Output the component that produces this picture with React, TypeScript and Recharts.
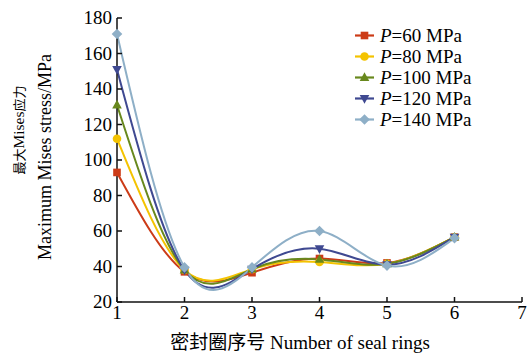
import React from 'react';
import { LineChart, Line, XAxis, YAxis, Legend } from 'recharts';

// Seal ring index along the shaft
const ringNumbers = [1, 2, 3, 4, 5, 6];

// Maximum Mises stress (MPa) on each ring, per sealing pressure
const stressP60 = [93, 37, 36.5, 44.5, 42, 56.5];
const stressP80 = [112, 38, 38.5, 42.5, 41.5, 56.5];
const stressP100 = [131, 38, 38.5, 44, 41.5, 56.5];
const stressP120 = [151, 38, 38.5, 50, 41, 56.5];
const stressP140 = [171, 39.5, 39.5, 60, 40.5, 56];

// Sealing pressures shown in the legend (MPa)
const pressures = ['60', '80', '100', '120', '140'];

const xTicks = [1, 2, 3, 4, 5, 6, 7];
const yTicks = [20, 40, 60, 80, 100, 120, 140, 160, 180];

type Shape = 'square' | 'circle' | 'triangle' | 'triangleDown' | 'diamond';

const series: { key: string; values: number[]; pressure: string; color: string; shape: Shape }[] = [
  { key: 'p60', values: stressP60, pressure: pressures[0], color: '#cc3b17', shape: 'square' },
  { key: 'p80', values: stressP80, pressure: pressures[1], color: '#f4c300', shape: 'circle' },
  { key: 'p100', values: stressP100, pressure: pressures[2], color: '#68881d', shape: 'triangle' },
  { key: 'p120', values: stressP120, pressure: pressures[3], color: '#3f4991', shape: 'triangleDown' },
  { key: 'p140', values: stressP140, pressure: pressures[4], color: '#8eafc7', shape: 'diamond' },
];

const data = ringNumbers.map((ring, i) => {
  const row: Record<string, number> = { ring };
  series.forEach((s) => {
    row[s.key] = s.values[i];
  });
  return row;
});

const SERIF = "'Liberation Serif', 'Times New Roman', serif";
const MIXED = "'Liberation Serif', 'Noto Sans CJK SC', serif";
const CJK = "'Noto Sans CJK SC', sans-serif";
const AXIS_COLOR = '#111';
const TICK_LEN = 5;
const X_TICK_MARGIN = 3;
const Y_TICK_MARGIN = 5;

function Marker({ shape, color, cx, cy }: { shape: Shape; color: string; cx: number; cy: number }) {
  switch (shape) {
    case 'square':
      return <rect x={cx - 3.8} y={cy - 3.8} width={7.6} height={7.6} fill={color} />;
    case 'circle':
      return <circle cx={cx} cy={cy} r={4.3} fill={color} />;
    case 'triangle':
      return <path d={`M${cx},${cy - 5.2}L${cx + 4.8},${cy + 3.4}L${cx - 4.8},${cy + 3.4}Z`} fill={color} />;
    case 'triangleDown':
      return <path d={`M${cx},${cy + 5.2}L${cx + 4.8},${cy - 3.4}L${cx - 4.8},${cy - 3.4}Z`} fill={color} />;
    default:
      return <path d={`M${cx},${cy - 5.3}L${cx + 5.3},${cy}L${cx},${cy + 5.3}L${cx - 5.3},${cy}Z`} fill={color} />;
  }
}

function XTick(props: any) {
  const { x, y, payload } = props;
  const axisY = y - X_TICK_MARGIN;
  return (
    <g>
      <line x1={x} x2={x} y1={axisY} y2={axisY - TICK_LEN} stroke={AXIS_COLOR} strokeWidth={1.5} />
      <text x={x} y={y} dy="0.72em" textAnchor="middle" fontSize={19} fontFamily={SERIF} fill="#000">
        {payload.value}
      </text>
    </g>
  );
}

function YTick(props: any) {
  const { x, y, payload } = props;
  const axisX = x + Y_TICK_MARGIN;
  return (
    <g>
      <line x1={axisX} x2={axisX + TICK_LEN} y1={y} y2={y} stroke={AXIS_COLOR} strokeWidth={1.5} />
      <text x={x} y={y} dy="0.34em" textAnchor="end" fontSize={19} fontFamily={SERIF} fill="#000">
        {payload.value}
      </text>
    </g>
  );
}

function YTitle() {
  return (
    <g fill="#000">
      <text
        x={18}
        y={130}
        transform="rotate(-90 18 130)"
        textAnchor="middle"
        dominantBaseline="central"
      >
        <tspan fontSize={13} fontFamily={CJK}>最大</tspan>
        <tspan fontSize={15.5} fontFamily={SERIF}>Mises</tspan>
        <tspan fontSize={13} fontFamily={CJK}>应力</tspan>
      </text>
      <text
        x={45}
        y={157}
        transform="rotate(-90 45 157)"
        textAnchor="middle"
        dominantBaseline="central"
        fontSize={18}
        fontFamily={SERIF}
      >
        Maximum Mises stress/MPa
      </text>
    </g>
  );
}

function XTitle() {
  return (
    <text x={300} y={349} textAnchor="middle" fontSize={19} fontFamily={MIXED} fill="#000">
      密封圈序号 Number of seal rings
    </text>
  );
}

function LegendBox() {
  return (
    <div style={{ display: 'flex', flexDirection: 'column' }}>
      {series.map((s) => (
        <div key={s.key} style={{ display: 'flex', alignItems: 'center', height: 21 }}>
          <svg width={27} height={21} style={{ display: 'block' }}>
            <line x1={3} x2={22} y1={10.5} y2={10.5} stroke={s.color} strokeWidth={2.2} />
            <Marker shape={s.shape} color={s.color} cx={12.5} cy={10.5} />
          </svg>
          <span
            style={{
              fontFamily: SERIF,
              fontSize: 19,
              lineHeight: '21px',
              color: '#000',
              marginLeft: 1,
              whiteSpace: 'nowrap',
            }}
          >
            <i>P</i>={s.pressure} MPa
          </span>
        </div>
      ))}
    </div>
  );
}

export default function App() {
  return (
    <div style={{ position: 'absolute', left: 0, top: 0, width: 527, height: 356, background: '#fff' }}>
      <LineChart width={527} height={356} data={data} margin={{ top: 18, right: 5, left: 0, bottom: 0 }}>
        <XAxis
          dataKey="ring"
          type="number"
          domain={[1, 7]}
          ticks={xTicks}
          interval={0}
          height={54}
          tickSize={0}
          tickMargin={X_TICK_MARGIN}
          tickLine={false}
          axisLine={{ stroke: AXIS_COLOR, strokeWidth: 1.5 }}
          tick={<XTick />}
          label={{ content: () => <XTitle /> }}
        />
        <YAxis
          type="number"
          domain={[20, 180]}
          ticks={yTicks}
          interval={0}
          width={117}
          tickSize={0}
          tickMargin={Y_TICK_MARGIN}
          tickLine={false}
          axisLine={{ stroke: AXIS_COLOR, strokeWidth: 1.5 }}
          tick={<YTick />}
          label={{ content: () => <YTitle /> }}
        />
        <Legend
          layout="vertical"
          align="center"
          verticalAlign="middle"
          wrapperStyle={{ left: 352, top: 24.5, width: 'auto' }}
          content={() => <LegendBox />}
        />
        {series.map((s) => (
          <Line
            key={s.key}
            dataKey={s.key}
            type="natural"
            stroke={s.color}
            strokeWidth={2}
            isAnimationActive={false}
            activeDot={false}
            dot={(p: any) => (
              <g key={`${s.key}-${p.index}`}>
                <Marker shape={s.shape} color={s.color} cx={p.cx} cy={p.cy} />
              </g>
            )}
          />
        ))}
      </LineChart>
    </div>
  );
}
